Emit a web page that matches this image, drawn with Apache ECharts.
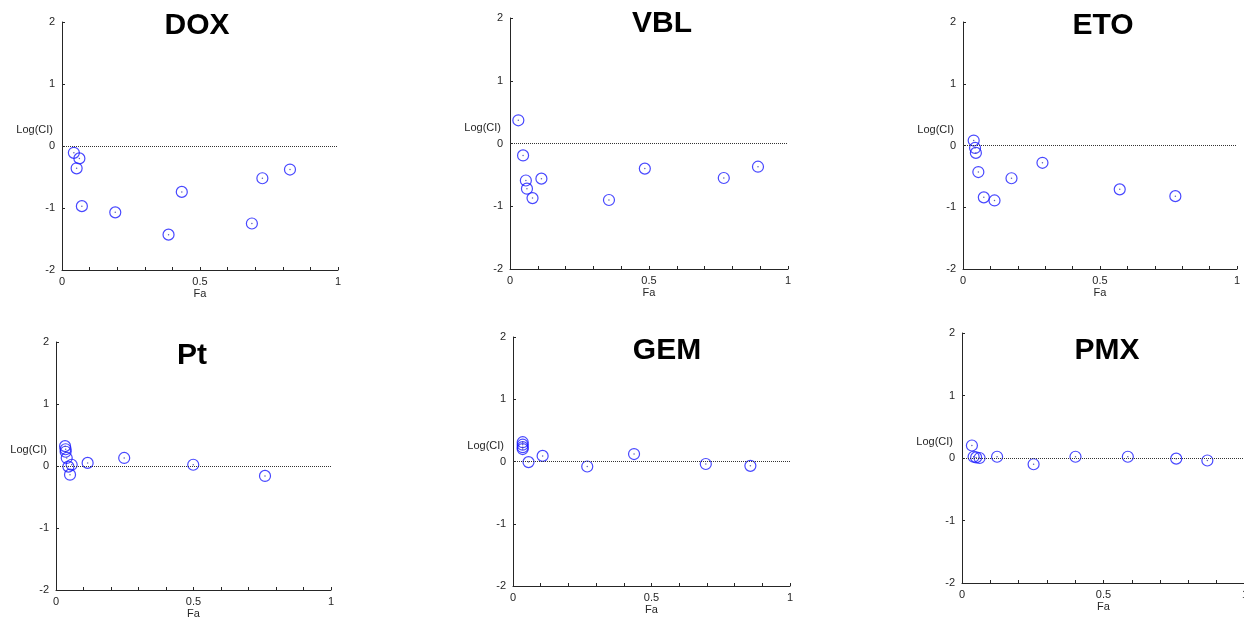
<!DOCTYPE html>
<html>
<head>
<meta charset="utf-8">
<script src="https://cdn.jsdelivr.net/npm/echarts@6/dist/echarts.min.js"></script>
<style>
  html, body { margin: 0; padding: 0; background: #fff; }
  #chart { width: 1244px; height: 619px; }
</style>
</head>
<body>
<div id="chart"></div>
<script>
// panel names
const drugNames = ['DOX', 'VBL', 'ETO', 'Pt', 'GEM', 'PMX'];

// Fa (x) and Log(CI) (y)
const doxFa = [0.043, 0.063, 0.053, 0.072, 0.193, 0.386, 0.434, 0.688, 0.726, 0.826];
const doxCI = [-0.11, -0.20, -0.36, -0.97, -1.07, -1.43, -0.74, -1.25, -0.52, -0.38];

const vblFa = [0.030, 0.047, 0.057, 0.061, 0.081, 0.113, 0.356, 0.485, 0.769, 0.892];
const vblCI = [0.37, -0.19, -0.59, -0.72, -0.87, -0.56, -0.90, -0.40, -0.55, -0.37];

const etoFa = [0.039, 0.044, 0.047, 0.056, 0.076, 0.115, 0.177, 0.290, 0.572, 0.775];
const etoCI = [0.08, -0.04, -0.12, -0.43, -0.84, -0.89, -0.53, -0.28, -0.71, -0.82];

const ptFa = [0.033, 0.035, 0.035, 0.039, 0.045, 0.057, 0.051, 0.115, 0.248, 0.499, 0.760];
const ptCI = [0.32, 0.27, 0.23, 0.13, -0.01, 0.02, -0.14, 0.05, 0.13, 0.02, -0.16];

const gemFa = [0.035, 0.035, 0.035, 0.035, 0.056, 0.107, 0.268, 0.437, 0.696, 0.857];
const gemCI = [0.31, 0.27, 0.23, 0.20, -0.01, 0.09, -0.08, 0.12, -0.04, -0.07];

const pmxFa = [0.035, 0.041, 0.050, 0.062, 0.124, 0.253, 0.401, 0.586, 0.757, 0.867];
const pmxCI = [0.20, 0.02, 0.01, 0.00, 0.02, -0.10, 0.02, 0.02, -0.01, -0.04];

const faLists = [doxFa, vblFa, etoFa, ptFa, gemFa, pmxFa];
const ciLists = [doxCI, vblCI, etoCI, ptCI, gemCI, pmxCI];

// layout: [left, top, width, height] of each plot, title centre [x, top]
const gridBoxes = [
  [62, 22, 276, 248], [510, 18, 278, 251], [963, 22, 274, 247],
  [56, 342, 275, 248], [513, 337, 277, 249], [962, 333, 283, 250]
];
const titlePos = [[197, 11], [662, 9], [1103, 11], [192, 341], [667, 336], [1107, 336]];

const fontFam = 'Liberation Sans, Arial, sans-serif';
const axisColor = '#262626';
const labelStyle = { color: '#262626', fontSize: 11, fontFamily: fontFam };
const blue = '#1a1aff';

const chart = echarts.init(document.getElementById('chart'));

const grid = [], xAxis = [], yAxis = [], title = [], series = [];

drugNames.forEach((name, i) => {
  const [l, t, w, h] = gridBoxes[i];
  grid.push({ left: l, top: t, width: w, height: h, outerBoundsMode: 'none', containLabel: false });

  title.push({
    text: name,
    left: titlePos[i][0],
    top: titlePos[i][1],
    textAlign: 'center',
    padding: 0,
    textStyle: { fontSize: 30, fontWeight: 'bold', color: '#000', fontFamily: fontFam }
  });

  xAxis.push({
    type: 'value',
    gridIndex: i,
    min: 0,
    max: 1,
    interval: 0.1,
    name: 'Fa',
    nameLocation: 'middle',
    nameGap: 18,
    nameTextStyle: labelStyle,
    axisLine: { show: true, onZero: false, lineStyle: { color: axisColor, width: 1 } },
    axisTick: { show: true, inside: true, length: 3, lineStyle: { color: axisColor } },
    axisLabel: Object.assign({
      margin: 6,
      formatter: v => (Math.abs(v * 2 - Math.round(v * 2)) < 1e-6 ? String(+v.toFixed(1)) : '')
    }, labelStyle),
    splitLine: { show: false }
  });

  yAxis.push({
    type: 'value',
    gridIndex: i,
    min: -2,
    max: 2,
    interval: 1,
    axisLine: { show: true, onZero: false, lineStyle: { color: axisColor, width: 1 } },
    axisTick: { show: true, inside: true, length: 3, lineStyle: { color: axisColor } },
    axisLabel: Object.assign({ margin: 7 }, labelStyle),
    splitLine: { show: false }
  });

  const pts = faLists[i].map((fa, k) => [fa, ciLists[i][k]]);

  series.push({
    type: 'scatter',
    xAxisIndex: i,
    yAxisIndex: i,
    data: pts,
    symbol: 'circle',
    symbolSize: 11,
    itemStyle: { color: 'rgba(0,0,0,0)', borderColor: blue, borderWidth: 1.2 },
    markLine: {
      silent: true,
      symbol: 'none',
      label: { show: false },
      lineStyle: { type: 'dotted', color: '#333', width: 1 },
      data: [{ yAxis: 0 }]
    }
  });

  // tiny centre dot of each marker
  series.push({
    type: 'scatter',
    xAxisIndex: i,
    yAxisIndex: i,
    data: pts,
    symbol: 'circle',
    symbolSize: 1.5,
    silent: true,
    itemStyle: { color: '#3a3aa0' }
  });
});

chart.setOption({
  animation: false,
  title: title,
  grid: grid,
  xAxis: xAxis,
  yAxis: yAxis,
  series: series
});

// horizontal "Log(CI)" y-axis labels, sitting just above the zero level
const nameTexts = drugNames.map((name, i) => {
  const zero = chart.convertToPixel({ gridIndex: i }, [0, 0]);
  return {
    type: 'text',
    x: gridBoxes[i][0] - 9,
    y: zero[1] - 16,
    style: {
      text: 'Log(CI)',
      fill: '#262626',
      font: '11px ' + fontFam,
      textAlign: 'right',
      textVerticalAlign: 'middle'
    }
  };
});
chart.setOption({ graphic: nameTexts });
</script>
</body>
</html>
